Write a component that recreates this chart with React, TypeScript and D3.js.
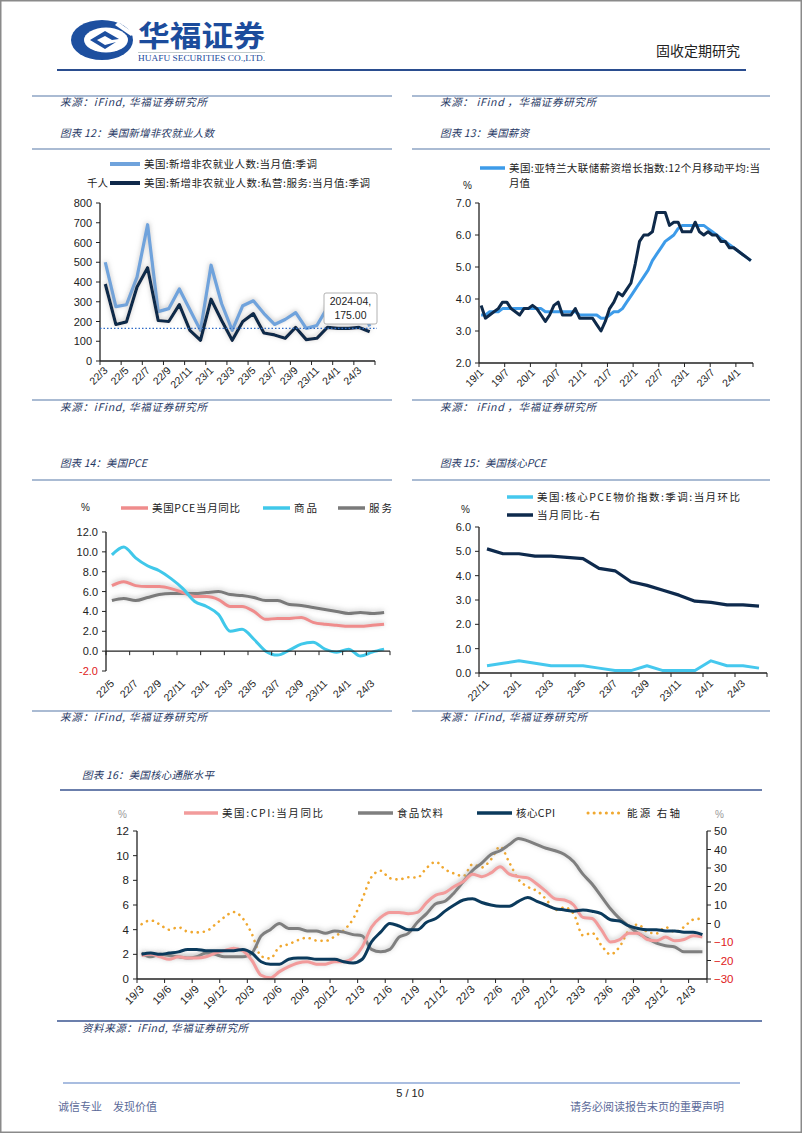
import React from "react";
import * as d3 from "d3";

const NUM = "'Liberation Sans', Arial, sans-serif";
const CJK = "'Noto Sans CJK SC', 'Noto Sans', sans-serif";

function monthRange(start: string, n: number): string[] {
  const [y, m] = start.split("/").map(Number);
  const out: string[] = [];
  for (let i = 0; i < n; i++) {
    const t = m - 1 + i;
    out.push(`${y + Math.floor(t / 12)}/${(t % 12) + 1}`);
  }
  return out;
}

// ---------- Chart 12: US nonfarm payrolls ----------
const c12Cats = monthRange("22/3", 26);
const c12Total = [500, 275, 285, 425, 690, 250, 265, 365, 260, 155, 485, 290, 155, 280, 305, 240, 185, 210, 245, 165, 180, 270, 256, 270, 310, 175];
const c12Private = [390, 185, 198, 375, 472, 205, 200, 285, 155, 105, 313, 205, 105, 200, 240, 142, 132, 115, 170, 108, 115, 170, 165, 165, 170, 148];
const c12YTicks = [0, 100, 200, 300, 400, 500, 600, 700, 800];
const c12Labels = ["22/3", "22/5", "22/7", "22/9", "22/11", "23/1", "23/3", "23/5", "23/7", "23/9", "23/11", "24/1", "24/3"];
const c12RefValue = 165;
const c12TipLabel = "2024-04";

// ---------- Chart 13: Atlanta Fed wage tracker ----------
const c13Cats = monthRange("19/1", 64);
const c13MA12 = [3.5, 3.5, 3.6, 3.6, 3.6, 3.7, 3.7, 3.7, 3.7, 3.7, 3.7, 3.7, 3.7, 3.7, 3.7, 3.6, 3.6, 3.6, 3.6, 3.6, 3.6, 3.6, 3.6, 3.5, 3.5, 3.5, 3.5, 3.5, 3.4, 3.4, 3.5, 3.6, 3.6, 3.7, 3.9, 4.1, 4.3, 4.5, 4.7, 4.9, 5.2, 5.4, 5.6, 5.8, 5.9, 6.0, 6.2, 6.3, 6.3, 6.3, 6.3, 6.3, 6.3, 6.2, 6.1, 6.0, 5.9, 5.8, 5.7, 5.6, 5.5, 5.4, 5.3, 5.2];
const c13MA3 = [3.8, 3.4, 3.5, 3.6, 3.7, 3.9, 3.9, 3.7, 3.6, 3.5, 3.7, 3.7, 3.8, 3.7, 3.5, 3.3, 3.5, 3.8, 3.9, 3.5, 3.5, 3.5, 3.7, 3.4, 3.4, 3.4, 3.4, 3.2, 3.0, 3.3, 3.7, 3.9, 4.2, 4.1, 4.3, 4.5, 5.1, 5.8, 6.0, 6.0, 6.1, 6.7, 6.7, 6.7, 6.3, 6.4, 6.4, 6.1, 6.1, 6.1, 6.4, 6.1, 6.0, 6.1, 6.0, 6.0, 5.8, 5.8, 5.6, 5.6, 5.5, 5.4, 5.3, 5.2];
const c13YTicks = [2, 3, 4, 5, 6, 7];
const c13Labels = ["19/1", "19/7", "20/1", "20/7", "21/1", "21/7", "22/1", "22/7", "23/1", "23/7", "24/1"];

// ---------- Chart 14: US PCE ----------
const c14Cats = monthRange("22/5", 24);
const c14Pce = [6.6, 7.0, 6.6, 6.5, 6.5, 6.3, 5.9, 5.5, 5.5, 5.2, 4.5, 4.5, 4.0, 3.2, 3.3, 3.3, 3.4, 2.9, 2.7, 2.6, 2.5, 2.5, 2.6, 2.7];
const c14Goods = [9.7, 10.5, 9.4, 8.6, 8.1, 7.3, 6.3, 5.0, 4.5, 3.7, 2.0, 2.2, 1.2, 0.0, -0.4, 0.1, 0.7, 0.9, 0.2, -0.1, 0.2, -0.5, -0.1, 0.2];
const c14Services = [5.1, 5.3, 5.1, 5.4, 5.7, 5.8, 5.8, 5.8, 5.9, 6.0, 5.7, 5.6, 5.4, 5.1, 5.1, 4.7, 4.6, 4.4, 4.2, 4.0, 3.8, 3.9, 3.8, 3.9];
const c14YTicks = [-2, 0, 2, 4, 6, 8, 10, 12];
const c14Labels = ["22/5", "22/7", "22/9", "22/11", "23/1", "23/3", "23/5", "23/7", "23/9", "23/11", "24/1", "24/3"];

// ---------- Chart 15: US core PCE ----------
const c15Cats = monthRange("22/11", 18);
const c15MoM = [0.3, 0.4, 0.5, 0.4, 0.3, 0.3, 0.3, 0.2, 0.1, 0.1, 0.3, 0.1, 0.1, 0.1, 0.5, 0.3, 0.3, 0.2];
const c15YoY = [5.1, 4.9, 4.9, 4.8, 4.8, 4.75, 4.7, 4.3, 4.2, 3.75, 3.6, 3.4, 3.2, 2.95, 2.9, 2.8, 2.8, 2.75];
const c15YTicks = [0, 1, 2, 3, 4, 5, 6];
const c15Labels = ["22/11", "23/1", "23/3", "23/5", "23/7", "23/9", "23/11", "24/1", "24/3"];

// ---------- Chart 16: US core inflation ----------
const c16Cats = monthRange("19/3", 62);
const c16Cpi = [1.9, 2.0, 1.8, 1.6, 1.8, 1.7, 1.7, 1.8, 2.1, 2.3, 2.5, 2.3, 1.5, 0.3, 0.1, 0.6, 1.0, 1.3, 1.4, 1.2, 1.2, 1.4, 1.4, 1.7, 2.6, 4.2, 5.0, 5.4, 5.4, 5.3, 5.4, 6.2, 6.8, 7.0, 7.5, 7.9, 8.5, 8.3, 8.6, 9.1, 8.5, 8.3, 8.2, 7.7, 7.1, 6.5, 6.4, 6.0, 5.0, 4.9, 4.0, 3.0, 3.2, 3.7, 3.7, 3.2, 3.1, 3.4, 3.1, 3.2, 3.5, 3.4];
const c16Food = [2.1, 1.8, 2.0, 1.9, 1.8, 1.7, 1.8, 2.1, 2.0, 1.8, 1.8, 1.8, 2.1, 3.5, 4.0, 4.5, 4.1, 4.1, 3.9, 3.9, 3.7, 3.9, 3.8, 3.6, 3.5, 2.4, 2.2, 2.4, 3.4, 3.7, 4.6, 5.3, 6.1, 6.3, 7.0, 7.9, 8.8, 9.4, 10.1, 10.4, 10.9, 11.4, 11.2, 10.9, 10.6, 10.4, 10.1, 9.5, 8.5, 7.7, 6.7, 5.7, 4.9, 4.3, 3.7, 3.3, 2.9, 2.7, 2.6, 2.2, 2.2, 2.2];
const c16Core = [2.0, 2.1, 2.0, 2.1, 2.2, 2.4, 2.4, 2.3, 2.3, 2.3, 2.3, 2.4, 2.1, 1.4, 1.2, 1.2, 1.6, 1.7, 1.7, 1.6, 1.6, 1.6, 1.4, 1.3, 1.6, 3.0, 3.8, 4.5, 4.3, 4.0, 4.0, 4.6, 4.9, 5.5, 6.0, 6.4, 6.5, 6.2, 6.0, 5.9, 5.9, 6.3, 6.6, 6.3, 6.0, 5.7, 5.6, 5.5, 5.6, 5.5, 5.3, 4.8, 4.7, 4.3, 4.1, 4.0, 4.0, 3.9, 3.9, 3.8, 3.8, 3.6];
const c16Energy = [-0.4, 1.7, -0.6, -3.4, -2.0, -4.4, -4.8, -4.2, -0.6, 3.4, 6.2, 2.8, -5.7, -17.7, -18.9, -12.6, -11.2, -9.0, -7.7, -9.2, -9.4, -7.0, -3.6, 2.4, 13.2, 25.1, 28.5, 24.5, 23.8, 25.0, 24.8, 30.0, 33.3, 29.3, 27.0, 25.6, 32.0, 30.3, 34.6, 41.6, 32.9, 23.8, 19.8, 17.6, 13.1, 7.3, 8.7, 5.2, -6.4, -5.1, -11.7, -16.7, -12.5, -3.6, -0.5, -4.5, -5.4, -2.0, -4.6, -1.9, 2.1, 2.6];
const c16YTicks = [0, 2, 4, 6, 8, 10, 12];
const c16RTicks = [-30, -20, -10, 0, 10, 20, 30, 40, 50];
const c16Labels = ["19/3", "19/6", "19/9", "19/12", "20/3", "20/6", "20/9", "20/12", "21/3", "21/6", "21/9", "21/12", "22/3", "22/6", "22/9", "22/12", "23/3", "23/6", "23/9", "23/12", "24/3"];

type Series = {
  values: number[];
  color: string;
  width: number;
  dash?: string;
  smooth?: boolean;
  glow?: boolean;
  right?: boolean;
};

type ChartCfg = {
  cats: string[];
  x0: number;
  x1: number;
  yTop: number;
  yBot: number;
  yDomain: [number, number];
  yTicks: number[];
  yFmt: (v: number) => string;
  labels: string[];
  tickEvery: number;
  labelY: number;
  axisAtZero?: boolean;
  series: Series[];
  rDomain?: [number, number];
  rTicks?: number[];
  fontSize?: number;
};

function Chart(cfg: ChartCfg) {
  const x = d3.scaleBand<string>().domain(cfg.cats).range([cfg.x0, cfg.x1]).padding(0);
  const bw = x.bandwidth();
  const y = d3.scaleLinear().domain(cfg.yDomain).range([cfg.yBot, cfg.yTop]);
  const yr = cfg.rDomain ? d3.scaleLinear().domain(cfg.rDomain).range([cfg.yBot, cfg.yTop]) : null;
  const axisY = cfg.axisAtZero ? y(0) : cfg.yBot;
  const fs = cfg.fontSize ?? 11;
  const tickXs: number[] = [];
  for (let i = 0; i <= cfg.cats.length; i += cfg.tickEvery) tickXs.push(cfg.x0 + i * bw);
  if (tickXs[tickXs.length - 1] < cfg.x1 - 0.5) tickXs.push(cfg.x1);
  return (
    <g>
      {cfg.series.map((s, k) => {
        const sc = s.right && yr ? yr : y;
        const line = d3
          .line<number>()
          .x((_, i) => (x(cfg.cats[i]) as number) + bw / 2)
          .y((d) => sc(d))
          .curve(s.smooth ? d3.curveMonotoneX : d3.curveLinear);
        return (
          <path
            key={k}
            d={line(s.values) || ""}
            fill="none"
            stroke={s.color}
            strokeWidth={s.width}
            strokeDasharray={s.dash}
            strokeLinecap={s.dash ? "round" : "butt"}
            strokeLinejoin="round"
            filter={s.glow ? "url(#glow)" : undefined}
          />
        );
      })}
      <line x1={cfg.x0} x2={cfg.x0} y1={cfg.yTop} y2={cfg.yBot} stroke="#222" strokeWidth={1.3} />
      {cfg.yTicks.map((t) => (
        <g key={t}>
          <line x1={cfg.x0 - 4} x2={cfg.x0} y1={y(t)} y2={y(t)} stroke="#222" strokeWidth={1} />
          <text x={cfg.x0 - 8} y={y(t) + 4} textAnchor="end" fontSize={fs} fontFamily={NUM} fill={t < 0 ? "#e02020" : "#222"}>
            {cfg.yFmt(t)}
          </text>
        </g>
      ))}
      {yr && cfg.rTicks && (
        <g>
          <line x1={cfg.x1} x2={cfg.x1} y1={cfg.yTop} y2={cfg.yBot} stroke="#222" strokeWidth={1.3} />
          {cfg.rTicks.map((t) => (
            <g key={t}>
              <line x1={cfg.x1} x2={cfg.x1 + 4} y1={yr(t)} y2={yr(t)} stroke="#222" strokeWidth={1} />
              <text x={cfg.x1 + 7} y={yr(t) + 4} textAnchor="start" fontSize={fs} fontFamily={NUM} fill={t < 0 ? "#e02020" : "#222"}>
                {t < 0 ? "\u2212" + Math.abs(t) : String(t)}
              </text>
            </g>
          ))}
        </g>
      )}
      <line x1={cfg.x0} x2={cfg.x1} y1={axisY} y2={axisY} stroke="#222" strokeWidth={1.3} />
      {tickXs.map((tx, i) => (
        <line key={i} x1={tx} x2={tx} y1={axisY} y2={axisY + 4} stroke="#222" strokeWidth={1} />
      ))}
      {cfg.labels.map((l) => {
        const cx = (x(l) as number) + bw / 2;
        return (
          <text
            key={l}
            transform={`translate(${cx + 3},${cfg.labelY}) rotate(-45)`}
            textAnchor="end"
            fontSize={fs - 0.5}
            fontFamily={NUM}
            fill="#222"
          >
            {l}
          </text>
        );
      })}
    </g>
  );
}

function Legend({ x, y, color, text, len, dash, width = 4, tx, fs = 10.5 }: any) {
  return (
    <g>
      <line
        x1={x}
        x2={x + (tx ?? 30) - 4}
        y1={y}
        y2={y}
        stroke={color}
        strokeWidth={dash ? 3 : width}
        strokeDasharray={dash}
        strokeLinecap={dash ? "round" : "butt"}
      />
      <text
        x={x + (tx ?? 30)}
        y={y + 4}
        fontSize={fs}
        fontFamily={CJK}
        fill="#222"
        textLength={len}
        lengthAdjust={len ? "spacing" : undefined}
      >
        {text}
      </text>
    </g>
  );
}

function Src({ x, y, len, children }: any) {
  return (
    <text
      x={x}
      y={y}
      fontSize={10.5}
      fontFamily={CJK}
      fill="#1f3864"
      fontStyle="italic"
      textLength={len}
      lengthAdjust="spacing"
    >
      {children}
    </text>
  );
}

export default function App() {
  const fmt1 = (v: number) => v.toFixed(1);
  const fmt0 = (v: number) => String(v);
  const c12y = d3.scaleLinear().domain([0, 800]).range([361, 203]);
  const panelLine = "#8ea4c4";
  return (
    <svg
      width={802}
      height={1133}
      viewBox="0 0 802 1133"
      style={{ position: "absolute", left: 0, top: 0, background: "#fff" }}
    >
      <defs>
        <filter id="glow" filterUnits="userSpaceOnUse" x="0" y="0" width="802" height="1133">
          <feGaussianBlur in="SourceAlpha" stdDeviation="2.4" result="b" />
          <feOffset in="b" dx="0" dy="-1.5" result="o" />
          <feFlood floodColor="#9a9a9a" floodOpacity="0.6" />
          <feComposite in2="o" operator="in" result="s" />
          <feMerge>
            <feMergeNode in="s" />
            <feMergeNode in="SourceGraphic" />
          </feMerge>
        </filter>
      </defs>
      <rect x={0} y={0} width={802} height={1133} fill="#fff" />
      <rect x={0.75} y={0.75} width={800.5} height={1131.5} fill="none" stroke="#8a8a8a" strokeWidth={1.5} />

      {/* Header */}
      <g>
        <ellipse cx={102} cy={40} rx={31} ry={20} fill="#1d4f9f" />
        <ellipse cx={106} cy={40} rx={22} ry={12.5} fill="#fff" />
        <path d="M 90 40 L 105 31 L 119 39 L 112 40 L 105 36 L 97 40 L 105 45 L 116 42 L 105 49 Z" fill="#1d4f9f" />
        <path d="M 118 22 L 134 33 L 131 36 L 115 25 Z" fill="#fff" />
        <text x={138} y={47} fontSize={29} fontWeight={700} fontFamily={CJK} fill="#1c4c9c" textLength={127} lengthAdjust="spacingAndGlyphs">
          华福证券
        </text>
        <line x1={138} x2={265} y1={52.5} y2={52.5} stroke="#9aa" strokeWidth={0.6} />
        <text x={138} y={61} fontSize={8.5} fontFamily="'Liberation Serif', serif" fill="#1c4c9c" textLength={127} lengthAdjust="spacingAndGlyphs">
          HUAFU SECURITIES CO.,LTD.
        </text>
        <text x={656} y={56} fontSize={14} fontFamily={CJK} fill="#222">
          固收定期研究
        </text>
        <line x1={57} x2={746} y1={70} y2={70} stroke="#2a4d8f" strokeWidth={2} />
      </g>

      {/* Top row lines and titles */}
      <line x1={32} x2={392} y1={96} y2={96} stroke={panelLine} strokeWidth={1.5} />
      <line x1={412} x2={770} y1={96} y2={96} stroke={panelLine} strokeWidth={1.5} />
      <Src x={60} y={106} len={147}>来源：iFind, 华福证券研究所</Src>
      <Src x={440} y={106} len={156}>来源： iFind ，华福证券研究所</Src>
      <Src x={60} y={137} len={154}>图表 12：美国新增非农就业人数</Src>
      <Src x={440} y={137} len={89}>图表 13：美国薪资</Src>
      <line x1={32} x2={392} y1={149} y2={149} stroke={panelLine} strokeWidth={1.5} />
      <line x1={412} x2={770} y1={149} y2={149} stroke={panelLine} strokeWidth={1.5} />

      {/* Chart 12 */}
      <Legend x={110} y={164} color="#6fa3dc" text="美国:新增非农就业人数:当月值:季调" len={173} tx={34} />
      <Legend x={110} y={183} color="#10294a" text="美国:新增非农就业人数:私营:服务:当月值:季调" len={226} tx={34} />
      <text x={87} y={187} fontSize={10.5} fontFamily={CJK} fill="#222">千人</text>
      <Chart
        cats={c12Cats}
        x0={100}
        x1={375}
        yTop={203}
        yBot={361}
        yDomain={[0, 800]}
        yTicks={c12YTicks}
        yFmt={fmt0}
        labels={c12Labels}
        tickEvery={2}
        labelY={371}
        series={[
          { values: c12Total, color: "#6fa3dc", width: 3.2, glow: true },
          { values: c12Private, color: "#10294a", width: 3.2, glow: true },
        ]}
      />
      <line x1={100} x2={377} y1={c12y(c12RefValue)} y2={c12y(c12RefValue)} stroke="#2e6bc6" strokeWidth={1.2} strokeDasharray="1.5 2" />
      <g>
        <rect x={324} y={293} width={53} height={31} rx={2} fill="#fff" stroke="#a0a0a0" strokeWidth={0.8} />
        <text x={350.5} y={305} textAnchor="middle" fontSize={10.5} fontFamily={NUM} fill="#222">
          {`${c12TipLabel},`}
        </text>
        <text x={350.5} y={319} textAnchor="middle" fontSize={10.5} fontFamily={NUM} fill="#222">
          {c12Total[c12Total.length - 1].toFixed(2)}
        </text>
      </g>

      {/* Chart 13 */}
      <Legend x={480} y={168} color="#3d9be9" text="美国:亚特兰大联储薪资增长指数:12个月移动平均:当" len={251} tx={29} width={3.5} />
      <text x={509} y={187} fontSize={10.5} fontFamily={CJK} fill="#222">月值</text>
      <text x={463} y={189} fontSize={10} fontFamily={NUM} fill="#222">%</text>
      <Chart
        cats={c13Cats}
        x0={479}
        x1={753}
        yTop={203}
        yBot={363}
        yDomain={[2, 7]}
        yTicks={c13YTicks}
        yFmt={fmt1}
        labels={c13Labels}
        tickEvery={6}
        labelY={373}
        series={[
          { values: c13MA12, color: "#3d9be9", width: 3 },
          { values: c13MA3, color: "#0f2a4a", width: 3 },
        ]}
      />

      {/* Middle row lines/titles */}
      <line x1={32} x2={392} y1={400} y2={400} stroke={panelLine} strokeWidth={1.5} />
      <line x1={412} x2={770} y1={400} y2={400} stroke={panelLine} strokeWidth={1.5} />
      <Src x={60} y={411} len={147}>来源：iFind, 华福证券研究所</Src>
      <Src x={440} y={411} len={156}>来源： iFind ，华福证券研究所</Src>
      <Src x={60} y={467} len={87}>图表 14：美国PCE</Src>
      <Src x={440} y={467} len={106}>图表 15：美国核心PCE</Src>
      <line x1={32} x2={392} y1={480} y2={480} stroke={panelLine} strokeWidth={1.5} />
      <line x1={412} x2={770} y1={480} y2={480} stroke={panelLine} strokeWidth={1.5} />

      {/* Chart 14 */}
      <text x={81} y={511} fontSize={10} fontFamily={NUM} fill="#222">%</text>
      <Legend x={121} y={508} color="#ef8c8c" text="美国PCE当月同比" len={88} tx={31} width={3.5} />
      <Legend x={263} y={508} color="#40c8ea" text="商品" len={23} tx={31} width={3.5} />
      <Legend x={338} y={508} color="#7a7a7a" text="服务" len={23} tx={31} width={3.5} />
      <Chart
        cats={c14Cats}
        x0={106}
        x1={390}
        yTop={532}
        yBot={671}
        yDomain={[-2, 12]}
        yTicks={c14YTicks}
        yFmt={fmt1}
        labels={c14Labels}
        tickEvery={2}
        labelY={684}
        axisAtZero
        series={[
          { values: c14Services, color: "#7a7a7a", width: 3, smooth: true, glow: true },
          { values: c14Pce, color: "#ef8c8c", width: 3, smooth: true, glow: true },
          { values: c14Goods, color: "#40c8ea", width: 3, smooth: true },
        ]}
      />

      {/* Chart 15 */}
      <text x={461} y={513} fontSize={10} fontFamily={NUM} fill="#222">%</text>
      <Legend x={507} y={497} color="#45c8ee" text="美国:核心PCE物价指数:季调:当月环比" len={203} tx={30} width={3.5} />
      <Legend x={507} y={515} color="#0e2a4d" text="当月同比-右" len={63} tx={30} width={3.5} />
      <Chart
        cats={c15Cats}
        x0={479}
        x1={767}
        yTop={527}
        yBot={673}
        yDomain={[0, 6]}
        yTicks={c15YTicks}
        yFmt={fmt1}
        labels={c15Labels}
        tickEvery={2}
        labelY={684}
        series={[
          { values: c15MoM, color: "#45c8ee", width: 3 },
          { values: c15YoY, color: "#0e2a4d", width: 3.2 },
        ]}
      />

      {/* Bottom of middle row */}
      <line x1={32} x2={392} y1={711} y2={711} stroke={panelLine} strokeWidth={1.5} />
      <line x1={412} x2={770} y1={711} y2={711} stroke={panelLine} strokeWidth={1.5} />
      <Src x={60} y={721} len={147}>来源：iFind, 华福证券研究所</Src>
      <Src x={440} y={721} len={147}>来源：iFind, 华福证券研究所</Src>

      {/* Chart 16 */}
      <Src x={82} y={779} len={132}>图表 16：美国核心通胀水平</Src>
      <line x1={60} x2={762} y1={790} y2={790} stroke="#3a5590" strokeWidth={1.5} />
      <text x={118} y={818} fontSize={10} fontFamily={NUM} fill="#999">%</text>
      <text x={715} y={818} fontSize={10} fontFamily={NUM} fill="#999">%</text>
      <Legend x={184} y={813} color="#f29b9b" text="美国:CPI:当月同比" len={101} tx={38} width={3.5} />
      <Legend x={358} y={813} color="#7f7f7f" text="食品饮料" len={46} tx={39} width={3.5} />
      <Legend x={477} y={813} color="#0b3a5c" text="核心CPI" len={39} tx={39} width={3.5} />
      <Legend x={588} y={813} color="#f0a830" text="能源 右轴" len={53} tx={39} dash="0.1 6" />
      <Chart
        cats={c16Cats}
        x0={137}
        x1={707}
        yTop={831}
        yBot={979}
        yDomain={[0, 12]}
        yTicks={c16YTicks}
        yFmt={fmt0}
        labels={c16Labels}
        tickEvery={3}
        labelY={990}
        rDomain={[-30, 50]}
        rTicks={c16RTicks}
        fontSize={11.5}
        series={[
          { values: c16Energy, color: "#f0a830", width: 2.6, dash: "0.1 6", smooth: true, right: true },
          { values: c16Food, color: "#7f7f7f", width: 3, smooth: true, glow: true },
          { values: c16Cpi, color: "#f29b9b", width: 3, smooth: true, glow: true },
          { values: c16Core, color: "#0b3a5c", width: 3, smooth: true },
        ]}
      />
      <line x1={57} x2={762} y1={1021} y2={1021} stroke="#3a5590" strokeWidth={1.5} />
      <Src x={82} y={1032} len={166}>资料来源：iFind, 华福证券研究所</Src>

      {/* Footer */}
      <line x1={63} x2={740} y1={1083} y2={1083} stroke="#a9bde0" strokeWidth={2} />
      <text x={410} y={1097} textAnchor="middle" fontSize={11} fontFamily={NUM} fill="#222">5 / 10</text>
      <text x={58} y={1111} fontSize={11} fontFamily={CJK} fill="#5b6a99">诚信专业{"\u2003"}发现价值</text>
      <text x={724} y={1111} textAnchor="end" fontSize={11} fontFamily={CJK} fill="#5b6a99">请务必阅读报告末页的重要声明</text>
    </svg>
  );
}
